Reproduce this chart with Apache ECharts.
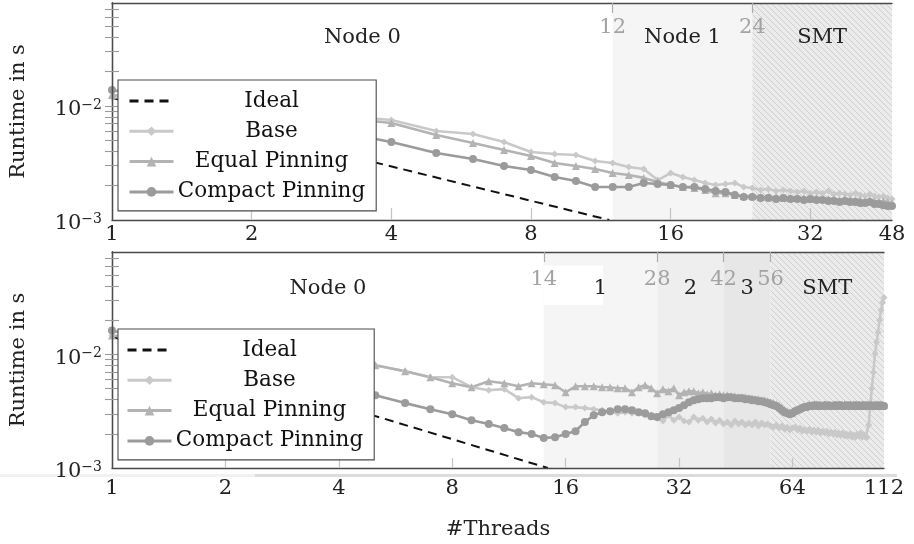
<!DOCTYPE html>
<html><head><meta charset="utf-8">
<script src="https://cdn.jsdelivr.net/npm/echarts@6/dist/echarts.min.js"></script>
<style>html,body{margin:0;padding:0;background:#fff}#c{width:914px;height:544px}</style>
</head><body><div id="c"></div>
<script>
// ---------- data ----------
const seriesNames = ['Ideal', 'Base', 'Equal Pinning', 'Compact Pinning'];
const xLabelsTop = [1, 2, 4, 8, 16, 32, 48];
const xLabelsBottom = [1, 2, 4, 8, 16, 32, 64, 112];
const xTicksTop = [2, 4, 8, 16, 32];
const xTicksBottom = [2, 4, 8, 16, 32, 64];
const yLabels = [0.001, 0.01];
const yTicks = [0.002, 0.003, 0.004, 0.005, 0.006, 0.007, 0.008, 0.009, 0.01, 0.02, 0.03, 0.04, 0.05, 0.06, 0.07];
const yMin = 0.001, yMax = 0.08;
const topBounds = [1, 12, 24, 48];
const topRegionNames = ['Node 0', 'Node 1', 'SMT'];
const bottomBounds = [1, 14, 28, 42, 56, 112];
const bottomRegionNames = ['Node 0', '1', '2', '3', 'SMT'];
// ideal line: [threads, seconds] end points
const topIdeal = [[1, 0.0118], [11.8, 0.001]];
const bottomIdeal = [[1, 0.01435], [14.35, 0.001]];
// runtimes in milliseconds, threads 1..N
const topBaseMs = [12.0, 9.8, 8.34, 7.54, 6.04, 5.68, 4.83, 3.95, 3.79, 3.72, 3.29, 3.16, 2.92, 2.80, 2.24, 2.58, 2.38, 2.24, 2.11, 2.03, 2.07, 2.11, 1.95, 1.91, 1.83, 1.87, 1.80, 1.83, 1.80, 1.76, 1.80, 1.72, 1.76, 1.72, 1.80, 1.69, 1.72, 1.69, 1.66, 1.72, 1.66, 1.62, 1.69, 1.62, 1.59, 1.62, 1.56, 1.53];
const topEqualMs = [12.5, 9.6, 8.01, 7.09, 5.57, 4.74, 4.11, 3.64, 3.16, 2.98, 2.80, 2.58, 2.48, 2.34, 2.15, 2.03, 1.95, 1.91, 1.83, 1.72, 1.72, 1.66, 1.62, 1.62, 1.59, 1.59, 1.59, 1.56, 1.56, 1.56, 1.56, 1.53, 1.56, 1.53, 1.53, 1.53, 1.50, 1.53, 1.50, 1.50, 1.50, 1.47, 1.50, 1.47, 1.44, 1.47, 1.44, 1.41];
const topCompactMs = [13.8, 8.34, 6.04, 4.83, 3.87, 3.43, 2.98, 2.74, 2.38, 2.20, 1.95, 1.95, 1.95, 2.11, 2.07, 2.03, 1.95, 1.95, 1.87, 1.80, 1.76, 1.66, 1.59, 1.59, 1.56, 1.56, 1.53, 1.56, 1.53, 1.53, 1.50, 1.53, 1.50, 1.50, 1.47, 1.47, 1.44, 1.47, 1.44, 1.44, 1.41, 1.41, 1.44, 1.38, 1.38, 1.35, 1.33, 1.33];
const bottomBaseMs = [
  14.7, 11.8, 10.2, 9.26, 8.04, 7.12, 6.31, 6.31, 5.15, 4.85,
  4.95, 4.12, 4.21, 3.80, 3.73, 3.44, 3.44, 3.37, 3.30, 3.23,
  3.10, 3.04, 3.10, 3.04, 3.04, 2.92, 2.92, 2.75, 2.59, 2.92,
  2.64, 2.81, 2.59, 2.54, 2.81, 2.64, 2.75, 2.54, 2.70, 2.49,
  2.64, 2.44, 2.54, 2.39, 2.59, 2.44, 2.54, 2.39, 2.49, 2.39,
  2.54, 2.34, 2.49, 2.39, 2.44, 2.34, 2.29, 2.39, 2.25, 2.34,
  2.20, 2.29, 2.16, 2.25, 2.29, 2.16, 2.25, 2.11, 2.20, 2.11,
  2.20, 2.07, 2.16, 2.07, 2.16, 2.03, 2.11, 2.03, 2.11, 1.99,
  2.07, 1.99, 2.07, 1.95, 2.03, 1.95, 2.03, 1.91, 1.99, 1.91,
  1.99, 1.87, 1.95, 1.87, 1.99, 1.91, 2.03, 1.87, 1.95, 1.87,
  1.87, 2.39, 3.58, 5.05, 6.98, 10.2, 12.8, 15.7, 20.0, 24.5, 28.7, 31.8];
const bottomEqualMs = [
  14.7, 11.8, 10.2, 9.26, 8.04, 7.12, 6.31, 5.58, 5.15, 5.81,
  5.58, 5.25, 5.58, 5.47, 5.36, 4.65, 5.25, 5.25, 5.25, 5.15,
  5.15, 5.05, 5.05, 4.65, 5.15, 5.36, 5.05, 4.56, 4.95, 4.75,
  5.05, 4.38, 4.65, 4.75, 4.75, 4.56, 4.65, 4.47, 4.56, 4.38,
  4.47, 4.38, 4.38, 4.29, 4.29, 4.21, 4.21, 4.21, 4.12, 4.12,
  4.04, 4.04, 3.96, 3.96, 3.88, 3.80, 3.73, 3.65, 3.51, 3.37,
  3.23, 3.17, 3.10, 3.10, 3.23, 3.30, 3.37, 3.44, 3.51, 3.58,
  3.65, 3.58, 3.58, 3.65, 3.58, 3.51, 3.58, 3.65, 3.58, 3.58,
  3.51, 3.58, 3.65, 3.58, 3.58, 3.51, 3.58, 3.65, 3.58, 3.51,
  3.58, 3.58, 3.65, 3.58, 3.51, 3.58, 3.58, 3.65, 3.58, 3.51,
  3.58, 3.58, 3.65, 3.58, 3.51, 3.58, 3.58, 3.65, 3.58, 3.58, 3.51, 3.58];
const bottomCompactMs = [
  16.3, 9.26, 6.70, 5.25, 4.38, 3.73, 3.30, 2.98, 2.64, 2.44,
  2.25, 2.07, 1.99, 1.84, 1.87, 1.99, 2.11, 2.54, 2.92, 3.10,
  3.17, 3.30, 3.30, 3.23, 3.10, 3.04, 2.86, 2.81, 2.98, 3.10,
  3.23, 3.37, 3.58, 3.80, 3.96, 4.04, 4.12, 4.12, 4.12, 4.21,
  4.21, 4.12, 4.21, 4.21, 4.12, 4.12, 4.12, 4.04, 4.04, 3.96,
  3.96, 3.88, 3.88, 3.80, 3.73, 3.65, 3.58, 3.51, 3.37, 3.23,
  3.10, 3.04, 2.98, 3.04, 3.17, 3.23, 3.30, 3.37, 3.44, 3.44,
  3.51, 3.51, 3.58, 3.51, 3.58, 3.51, 3.51, 3.58, 3.51, 3.58,
  3.51, 3.51, 3.58, 3.51, 3.58, 3.58, 3.51, 3.51, 3.58, 3.51,
  3.58, 3.51, 3.51, 3.58, 3.51, 3.58, 3.51, 3.51, 3.58, 3.51,
  3.58, 3.51, 3.51, 3.58, 3.51, 3.51, 3.58, 3.51, 3.51, 3.58, 3.51, 3.51];

// ---------- helpers ----------
const L2 = Math.log2, L10 = Math.log10;
const FONT = 'DejaVu Serif';
const FS = 21;
const msPts = arr => arr.map((v, i) => [L2(i + 1), L10(v / 1000)]);
const pairPts = arr => arr.map(p => [L2(p[0]), L10(p[1])]);
const colors = { ideal: '#111', base: '#c9c9c9', equal: '#b3b3b3', compact: '#9b9b9b' };
const frame = { color: '#4a4a4a', width: 1.3 };

function hatch() {
  const c = document.createElement('canvas'); c.width = 6; c.height = 6;
  const g = c.getContext('2d');
  g.fillStyle = '#ebebeb'; g.fillRect(0, 0, 6, 6);
  g.strokeStyle = '#cfcfcf'; g.lineWidth = 1;
  g.beginPath();
  g.moveTo(-1, -1); g.lineTo(7, 7);
  g.moveTo(-1, 5); g.lineTo(1, 7);
  g.moveTo(5, -1); g.lineTo(7, 1);
  g.stroke();
  return { image: c, repeat: 'repeat' };
}
const hatchColor = hatch();

function xAxes(gi, maxN, labels, ticks, bounds, withName) {
  const maxV = L2(maxN);
  const inner = bounds.slice(1, -1).map(L2);
  const fmt = v => String(Math.round(Math.pow(2, v)));
  const main = {
    type: 'value', gridIndex: gi, position: 'bottom', min: 0, max: maxV, z: 5,
    splitLine: { show: false },
    axisLine: { show: true, lineStyle: frame },
    axisTick: { show: true, inside: true, length: gi === 0 ? 12 : 10, customValues: ticks.map(L2), lineStyle: { color: '#c4c4c4', width: 1.2 } },
    axisLabel: { customValues: labels.map(L2), formatter: fmt, margin: gi === 0 ? 4 : 10, fontFamily: FONT, fontSize: FS, color: '#222' }
  };
  if (withName) {
    Object.assign(main, { name: '#Threads', nameLocation: 'middle', nameGap: 51, nameTextStyle: { fontFamily: FONT, fontSize: FS, color: '#222' } });
  }
  const top = {
    type: 'value', gridIndex: gi, position: 'top', min: 0, max: maxV, z: 5,
    splitLine: { show: false },
    axisLine: { show: true, lineStyle: frame },
    axisTick: { show: true, inside: true, length: 10, customValues: inner, lineStyle: { color: '#aaaaaa', width: 1.2 } },
    axisLabel: { show: true, inside: true, customValues: inner, formatter: fmt, margin: gi === 0 ? 14 : 17, fontFamily: FONT, fontSize: FS, color: '#a3a3a3' }
  };
  return [main, top];
}
function yAxes(gi) {
  const common = {
    type: 'value', gridIndex: gi, min: L10(yMin), max: L10(yMax), z: 5,
    splitLine: { show: false },
    axisLine: { show: true, lineStyle: frame },
    axisTick: { show: true, inside: true, length: 7, customValues: yTicks.map(L10), lineStyle: { color: '#9a9a9a', width: 1.1 } }
  };
  const left = Object.assign({}, common, {
    position: 'left',
    name: 'Runtime in s', nameLocation: 'middle', nameGap: 83,
    nameTextStyle: { fontFamily: FONT, fontSize: FS, color: '#222' },
    axisLabel: {
      customValues: yLabels.map(L10), margin: 10, padding: [8, 0, 0, 0],
      formatter: v => '{b|10}{s|\u2212' + Math.round(-v) + '}',
      rich: {
        b: { fontFamily: FONT, fontSize: FS, color: '#222', lineHeight: 24 },
        s: { fontFamily: FONT, fontSize: 14, color: '#222', lineHeight: 14, verticalAlign: 'top' }
      }
    }
  });
  const right = Object.assign({}, common, { position: 'right', axisLabel: { show: false } });
  return [left, right];
}

function regions(bounds, names, fills, extra) {
  const data = [];
  for (let i = 0; i < names.length; i++) {
    data.push([
      { name: names[i], xAxis: L2(bounds[i]), itemStyle: { color: fills[i] } },
      { xAxis: L2(bounds[i + 1]) }
    ]);
  }
  return data.concat(extra || []);
}

const labelStyle = (dist) => ({ show: true, position: 'insideTop', distance: dist, fontFamily: FONT, fontSize: FS, color: '#222' });

function plotSeries(gi, ideal, base, equal, compact, areaData, dist) {
  const xi = gi * 2, yi = gi * 2;
  const lineS = (name, data, color, symbol, size, extra) => Object.assign({
    name, type: 'line', xAxisIndex: xi, yAxisIndex: yi, data,
    color, symbol, symbolSize: size, showSymbol: true, animation: false,
    lineStyle: { color, width: 2.6 }, itemStyle: { color }, z: 3
  }, extra || {});
  return [
    {
      name: 'regions' + gi, type: 'line', xAxisIndex: xi, yAxisIndex: yi, data: [], z: 1, silent: true, animation: false,
      markArea: { silent: true, animation: false, label: labelStyle(dist), data: areaData }
    },
    lineS(seriesNames[0], pairPts(ideal), colors.ideal, 'none', 0, { lineStyle: { color: colors.ideal, width: 2, type: [9, 6] }, clip: true }),
    lineS(seriesNames[1], msPts(base), colors.base, 'diamond', 7),
    lineS(seriesNames[2], msPts(equal), colors.equal, 'triangle', 8),
    lineS(seriesNames[3], msPts(compact), colors.compact, 'circle', 8)
  ];
}

const topAreas = regions(topBounds, topRegionNames, ['rgba(0,0,0,0)', '#f5f5f5', hatchColor]);
const bottomAreas = regions(bottomBounds, bottomRegionNames, ['rgba(0,0,0,0)', '#f5f5f5', '#eeeeee', '#e7e7e7', hatchColor], [
  [{ xAxis: L2(14), yAxis: L10(0.0271), itemStyle: { color: '#ffffff' }, label: { show: false } }, { xAxis: L2(20.1), yAxis: L10(0.0608) }]
]);

function legendAt(left, top, padL) {
  return {
    orient: 'vertical', left, top,
    data: [
      { name: seriesNames[0], itemStyle: { opacity: 0 } },
      seriesNames[1], seriesNames[2], seriesNames[3]
    ],
    backgroundColor: '#fff', borderColor: '#4a4a4a', borderWidth: 1.1, borderRadius: 0,
    padding: [10, 11, 8, padL], itemWidth: 44, itemHeight: 12, itemGap: 8.3,
    selectedMode: false, z: 6,
    lineStyle: { width: 3 },
    formatter: n => '{t|' + n + '}',
    textStyle: { rich: { t: { width: 186, align: 'center', fontFamily: FONT, fontSize: 21.5, color: '#111', lineHeight: 22 } } }
  };
}

const chart = echarts.init(document.getElementById('c'), null, { renderer: 'canvas' });
chart.setOption({
  backgroundColor: '#fff',
  animation: false,
  grid: [
    { left: 108, top: 3, width: 784, height: 217 },
    { left: 107, top: 252, width: 777, height: 216 }
  ],
  xAxis: [].concat(
    xAxes(0, 48, xLabelsTop, xTicksTop, topBounds, false),
    xAxes(1, 112, xLabelsBottom, xTicksBottom, bottomBounds, true)
  ),
  yAxis: [].concat(yAxes(0), yAxes(1)),
  legend: [legendAt(118, 80, 10), legendAt(118, 329, 8)],
  graphic: [
    { type: 'rect', shape: { x: 0, y: 474, width: 255, height: 3 }, style: { fill: '#f1f1f1' }, silent: true },
    { type: 'rect', shape: { x: 255, y: 474, width: 642, height: 3 }, style: { fill: '#dcdcdc' }, silent: true }
  ],
  series: [].concat(
    plotSeries(0, topIdeal, topBaseMs, topEqualMs, topCompactMs, topAreas, 24),
    plotSeries(1, bottomIdeal, bottomBaseMs, bottomEqualMs, bottomCompactMs, bottomAreas, 26)
  )
});
</script></body></html>
